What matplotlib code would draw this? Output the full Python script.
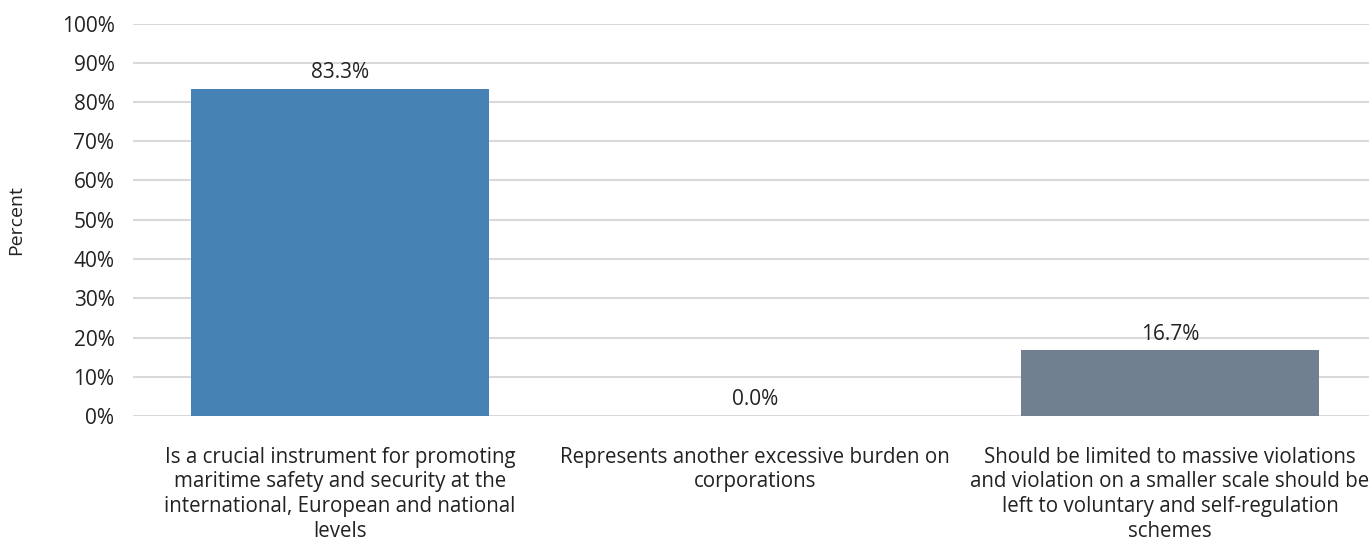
import matplotlib
matplotlib.use("Agg")
import matplotlib.pyplot as plt
from matplotlib.ticker import PercentFormatter

plt.rcParams['font.family'] = ['Open Sans', 'DejaVu Sans']

categories = [
    "Is a crucial instrument for promoting\nmaritime safety and security at the\ninternational, European and national\nlevels",
    "Represents another excessive burden on\ncorporations",
    "Should be limited to massive violations\nand violation on a smaller scale should be\nleft to voluntary and self-regulation\nschemes",
]
values = [83.3, 0.0, 16.7]
colors = ["#4682B4", "#4682B4", "#708090"]
yticks = list(range(0, 101, 10))

fig = plt.figure(figsize=(13.69, 5.45), dpi=100)
ax = fig.add_axes([132.5 / 1369, (545 - 416) / 545, 1245 / 1369, (416 - 23.5) / 545])

x = range(len(categories))
bars = ax.bar(x, values, width=0.716, color=colors, zorder=2)
for xi, v in zip(x, values):
    ax.text(xi, v + 1.5, f"{v:.1f}%", ha="center", va="bottom", fontsize=15, color="#222222")

ax.set_xlim(-0.5, 2.5)
ax.set_ylim(0, 100)
ax.set_yticks(yticks)
ax.yaxis.set_major_formatter(PercentFormatter(decimals=0))
ax.grid(axis="y", color="#d9d9d9", linewidth=1.5, zorder=0)
ax.set_xticks(list(x))
ax.set_xticklabels(categories, fontsize=14.8, linespacing=1.24, color="#222222")
ax.tick_params(axis="both", length=0, colors="#222222")
ax.tick_params(axis="x", pad=22)
ax.tick_params(axis="y", pad=13, labelsize=15)
for s in ax.spines.values():
    s.set_visible(False)
ax.set_ylabel("Percent", fontsize=14, color="#222222", labelpad=26)

fig.savefig("out.png", dpi=100)
